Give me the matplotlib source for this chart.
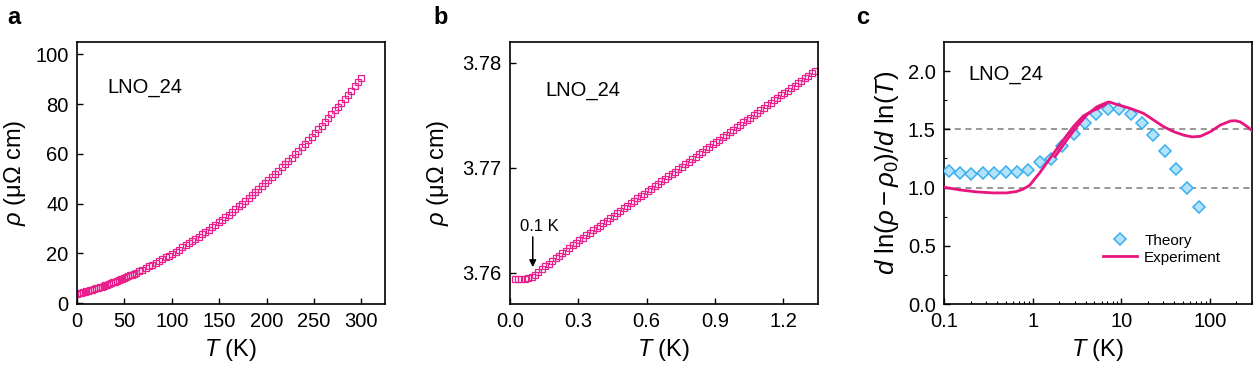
import matplotlib
matplotlib.use("Agg")
import matplotlib.pyplot as plt
import numpy as np

plt.rcParams['font.family'] = ['Liberation Sans', 'DejaVu Sans']
plt.rcParams['mathtext.fontset'] = 'custom'
plt.rcParams['mathtext.rm'] = 'Liberation Sans'
plt.rcParams['mathtext.it'] = 'Liberation Sans:italic'

# panel a: resistivity 0-300 K
T_a = [0, 2, 4, 6, 8, 10, 12, 14, 16, 18, 20, 22, 24, 26, 28, 30, 32, 34, 36, 38,
       40, 42, 44, 46, 48, 50, 52, 54, 56, 58, 60,
       62, 65.5, 69, 72.5, 76, 79.5, 83, 86.5, 90, 93.5, 97, 100.5, 104, 107.5,
       111, 114.5, 118, 121.5, 125, 128.5, 132, 135.5, 139, 142.5, 146, 149.5,
       153, 156.5, 160, 163.5, 167, 170.5, 174, 177.5, 181, 184.5, 188, 191.5,
       195, 198.5, 202, 205.5, 209, 212.5, 216, 219.5, 223, 226.5, 230, 233.5,
       237, 240.5, 244, 247.5, 251, 254.5, 258, 261.5, 265, 268.5, 272, 275.5,
       279, 282.5, 286, 289.5, 293, 296.5, 300]
rho_a = [3.76, 3.96, 4.16, 4.37, 4.58, 4.79, 5.02, 5.24, 5.48, 5.71, 5.96, 6.20,
         6.46, 6.72, 6.98, 7.25, 7.52, 7.80, 8.08, 8.37, 8.66, 8.96, 9.27, 9.58,
         9.89, 10.21, 10.53, 10.86, 11.20, 11.54, 11.88,
         12.23, 12.86, 13.50, 14.16, 14.83, 15.52, 16.22, 16.94, 17.67, 18.43,
         19.19, 19.97, 20.77, 21.58, 22.41, 23.26, 24.12, 24.99, 25.89, 26.79,
         27.72, 28.66, 29.61, 30.58, 31.56, 32.57, 33.58, 34.62, 35.66, 36.73,
         37.81, 38.90, 40.02, 41.14, 42.28, 43.44, 44.62, 45.81, 47.01, 48.23,
         49.47, 50.72, 51.99, 53.27, 54.57, 55.89, 57.22, 58.56, 59.93, 61.30,
         62.70, 64.11, 65.53, 66.97, 68.43, 69.90, 71.39, 72.89, 74.41, 75.94,
         77.49, 79.06, 80.64, 82.24, 83.85, 85.48, 87.12, 88.79, 90.46]

# panel b: low temperature zoom
T_b = [0.020, 0.035, 0.050, 0.065, 0.080, 0.095, 0.110, 0.125, 0.140, 0.155,
       0.170, 0.185, 0.200, 0.215, 0.230, 0.245, 0.260, 0.275, 0.290, 0.305,
       0.320, 0.335, 0.350, 0.365, 0.380, 0.395, 0.410, 0.425, 0.440, 0.455,
       0.470, 0.485, 0.500, 0.515, 0.530, 0.545, 0.560, 0.575, 0.590, 0.605,
       0.620, 0.635, 0.650, 0.665, 0.680, 0.695, 0.710, 0.725, 0.740, 0.755,
       0.770, 0.785, 0.800, 0.815, 0.830, 0.845, 0.860, 0.875, 0.890, 0.905,
       0.920, 0.935, 0.950, 0.965, 0.980, 0.995, 1.010, 1.025, 1.040, 1.055,
       1.070, 1.085, 1.100, 1.115, 1.130, 1.145, 1.160, 1.175, 1.190, 1.205,
       1.220, 1.235, 1.250, 1.265, 1.280, 1.295, 1.310, 1.325, 1.340]
rho_b = [3.75940, 3.75940, 3.75940, 3.75943, 3.75950, 3.75962, 3.75980, 3.76003,
         3.76030, 3.76058, 3.76086, 3.76112, 3.76136, 3.76158, 3.76182, 3.76208,
         3.76234, 3.76260, 3.76285, 3.76309, 3.76332, 3.76356, 3.76379, 3.76402,
         3.76426, 3.76449, 3.76473, 3.76496, 3.76520, 3.76543, 3.76566, 3.76590,
         3.76613, 3.76637, 3.76660, 3.76683, 3.76707, 3.76730, 3.76754, 3.76777,
         3.76801, 3.76824, 3.76847, 3.76871, 3.76894, 3.76918, 3.76941, 3.76964,
         3.76988, 3.77011, 3.77035, 3.77058, 3.77081, 3.77105, 3.77128, 3.77152,
         3.77175, 3.77198, 3.77222, 3.77245, 3.77269, 3.77292, 3.77315, 3.77339,
         3.77362, 3.77386, 3.77409, 3.77432, 3.77456, 3.77479, 3.77503, 3.77526,
         3.77549, 3.77573, 3.77596, 3.77620, 3.77643, 3.77666, 3.77690, 3.77713,
         3.77737, 3.77760, 3.77783, 3.77807, 3.77830, 3.77854, 3.77877, 3.77900,
         3.77924]

# panel c: logarithmic derivative
T_theory = [0.113, 0.152, 0.204, 0.274, 0.368, 0.495, 0.665, 0.893, 1.20, 1.61,
            2.17, 2.92, 3.92, 5.26, 7.07, 9.50, 12.8, 17.1, 23.1, 31.0, 41.6,
            56.0, 75.2]
n_theory = [1.140, 1.126, 1.120, 1.122, 1.124, 1.132, 1.133, 1.150, 1.220, 1.243,
            1.360, 1.463, 1.557, 1.629, 1.671, 1.671, 1.629, 1.557, 1.449, 1.317,
            1.163, 0.994, 0.831]

T_exp_low = [0.1, 0.15, 0.23, 0.36, 0.51, 0.66, 0.78, 0.93, 1.02, 1.2, 1.57,
             2.22, 2.88, 3.73, 4.64, 5.52, 6.87]
n_exp_low = [1.003, 0.98, 0.963, 0.954, 0.954, 0.966, 0.986, 1.02, 1.06, 1.125,
             1.25, 1.408, 1.522, 1.614, 1.656, 1.679, 1.722]

T_exp_high = [1.79, 2.43, 3.15, 4.08, 5.30, 6.87, 7.3, 9.3, 12.6, 17.9, 23.2,
              30.1, 39.1, 50.8, 63.1, 78.4, 102, 132, 172, 195, 222, 265, 300]
n_exp_high = [1.265, 1.408, 1.522, 1.622, 1.693, 1.73, 1.735, 1.71, 1.68, 1.637,
              1.58, 1.523, 1.48, 1.45, 1.435, 1.44, 1.48, 1.537, 1.572, 1.574,
              1.563, 1.523, 1.489]

PINK = '#e8147f'
SQ_EDGE = '#e81f8c'
BLUE_EDGE = '#3aaef0'
BLUE_FACE = '#b3e3fb'

TICK_FS = 14.5
LABEL_FS = 17

fig = plt.figure(figsize=(12.56, 3.71), dpi=100)
ax_a = fig.add_axes([77 / 1256, 67 / 371, 308 / 1256, 262 / 371])
ax_b = fig.add_axes([510 / 1256, 67 / 371, 308 / 1256, 262 / 371])
ax_c = fig.add_axes([944 / 1256, 67 / 371, 308 / 1256, 262 / 371])

for ax in (ax_a, ax_b, ax_c):
    ax.tick_params(which='major', direction='in', length=4.5, width=1,
                   labelsize=TICK_FS, pad=6)
    ax.tick_params(which='minor', direction='in', length=2.5, width=0.8)
    for s in ax.spines.values():
        s.set_linewidth(1.2)

# a
ax_a.plot(T_a, rho_a, 's', ms=4.8, mfc='none', mec=SQ_EDGE, mew=0.9)
ax_a.set_xlim(0, 325)
ax_a.set_ylim(-0.3, 105)
ax_a.set_xticks([0, 50, 100, 150, 200, 250, 300])
ax_a.set_yticks([0, 20, 40, 60, 80, 100])
ax_a.set_xlabel(r'$T$ (K)', fontsize=LABEL_FS, labelpad=4)
ax_a.set_ylabel(r'$\rho$ (μΩ cm)', fontsize=LABEL_FS, labelpad=5)
ax_a.text(0.097, 0.827, 'LNO_24', transform=ax_a.transAxes, fontsize=TICK_FS,
          va='center', ha='left')

# b
ax_b.plot(T_b, rho_b, 's', ms=4.2, mfc='none', mec=SQ_EDGE, mew=0.9)
ax_b.set_xlim(0, 1.353)
ax_b.set_ylim(3.757, 3.782)
ax_b.set_xticks([0.0, 0.3, 0.6, 0.9, 1.2])
ax_b.set_xticklabels(['0.0', '0.3', '0.6', '0.9', '1.2'])
ax_b.set_yticks([3.76, 3.77, 3.78])
ax_b.set_yticklabels(['3.76', '3.77', '3.78'])
ax_b.set_xlabel(r'$T$ (K)', fontsize=LABEL_FS, labelpad=4)
ax_b.set_ylabel(r'$\rho$ (μΩ cm)', fontsize=LABEL_FS, labelpad=8)
ax_b.text(0.114, 0.814, 'LNO_24', transform=ax_b.transAxes, fontsize=TICK_FS,
          va='center', ha='left')
ax_b.annotate('', xy=(0.1, 3.76052), xytext=(0.1, 3.7634),
              arrowprops=dict(arrowstyle='-|>', color='black', lw=1.1,
                              mutation_scale=10, shrinkA=0, shrinkB=0))
ax_b.text(0.13, 3.7644, '0.1 K', fontsize=12, ha='center', va='center')

# c
ax_c.axhline(1.0, color='#7a7a7a', ls=(0, (4, 3)), lw=1.1, zorder=1)
ax_c.axhline(1.5, color='#7a7a7a', ls=(0, (4, 3)), lw=1.1, zorder=1)
ax_c.plot(T_theory, n_theory, 'D', ms=6, mfc=BLUE_FACE, mec=BLUE_EDGE,
          mew=1.1, ls='none', label='Theory', zorder=3)
ax_c.plot(T_exp_low, n_exp_low, '-', color=PINK, lw=2, zorder=4,
          label='Experiment')
ax_c.plot(T_exp_high, n_exp_high, '-', color=PINK, lw=2, zorder=4)
ax_c.set_xscale('log')
ax_c.set_xlim(0.1, 300)
ax_c.set_ylim(0, 2.25)
ax_c.set_xticks([0.1, 1, 10, 100])
ax_c.set_xticklabels(['0.1', '1', '10', '100'])
ax_c.set_yticks([0.0, 0.5, 1.0, 1.5, 2.0])
ax_c.set_yticklabels(['0.0', '0.5', '1.0', '1.5', '2.0'])
ax_c.set_yticks([0.25, 0.75, 1.25, 1.75], minor=True)
ax_c.set_xlabel(r'$T$ (K)', fontsize=LABEL_FS, labelpad=4)
ax_c.set_ylabel(r'$d$ ln($\rho-\rho_0$)/$d$ ln($T$)', fontsize=18.5,
                labelpad=5)
ax_c.text(0.078, 0.875, 'LNO_24', transform=ax_c.transAxes, fontsize=TICK_FS,
          va='center', ha='left')
ax_c.legend(loc='upper left', bbox_to_anchor=(0.516, 0.268), frameon=False,
            fontsize=11, handlelength=2.2, handletextpad=0.5,
            labelspacing=0.2, borderpad=0, borderaxespad=0)

for ax, letter, x in ((ax_a, 'a', 7), (ax_b, 'b', 433), (ax_c, 'c', 856)):
    fig.text(x / 1256, 1 - 17 / 371, letter, fontsize=17, fontweight='bold',
             ha='left', va='center')

fig.savefig('out.png', dpi=100)
